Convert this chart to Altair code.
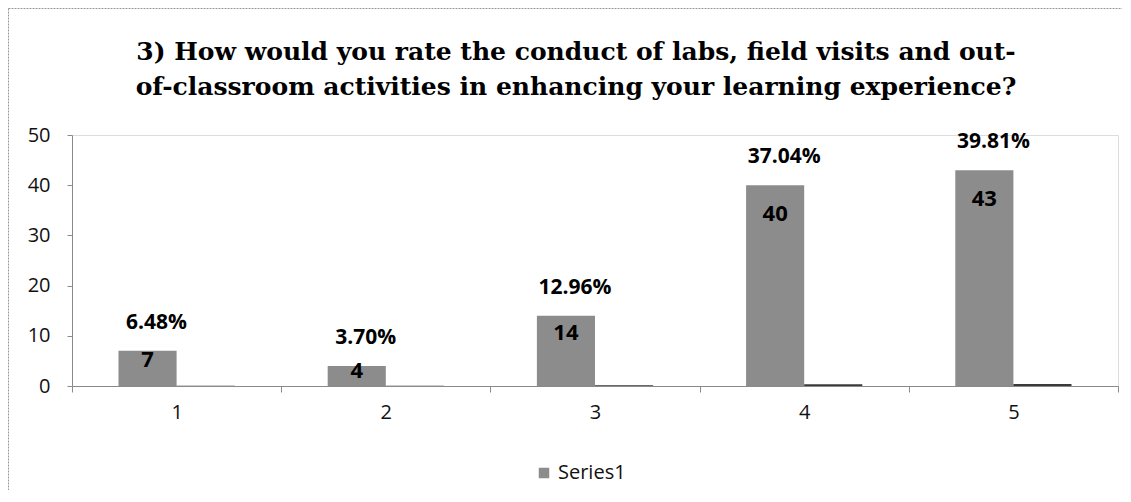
import altair as alt
import pandas as pd

ratings = ["1", "2", "3", "4", "5"]
counts = [7, 4, 14, 40, 43]
percent_labels = ["6.48%", "3.70%", "12.96%", "37.04%", "39.81%"]
series2_values = [0.0648, 0.0370, 0.1296, 0.3704, 0.3981]
series_names = ["Series1", "Series2"]
y_ticks = [0, 10, 20, 30, 40, 50]
title_line1 = "3) How would you rate the conduct of labs, field visits and out-"
title_line2 = "of-classroom activities in enhancing your learning experience?"

rows = []
for r, c, p, s2 in zip(ratings, counts, percent_labels, series2_values):
    rows.append({"rating": r, "series": "Series1", "value": c, "pct": p})
    rows.append({"rating": r, "series": "Series2", "value": s2, "pct": p})
df = pd.DataFrame(rows)

W, H = 1046, 251
sans = "Open Sans"

x_enc = alt.X(
    "rating:N",
    sort=ratings,
    scale=alt.Scale(paddingInner=0, paddingOuter=0),
    axis=alt.Axis(
        title=None, labelAngle=0, tickBand="extent", domainColor="#8a8a8a",
        tickColor="#8a8a8a", tickSize=6, labelPadding=10, labelFont=sans,
        labelFontSize=20, labelColor="#111", grid=False,
    ),
)
xoff = alt.XOffset(
    "series:N", sort=series_names,
    scale=alt.Scale(domain=series_names, paddingInner=0, paddingOuter=0.8),
)
y_enc = alt.Y(
    "value:Q",
    scale=alt.Scale(domain=[0, 50], nice=False),
    axis=alt.Axis(
        title=None, values=y_ticks, grid=False, domainColor="#8a8a8a",
        tickColor="#8a8a8a", tickSize=5, labelPadding=17, labelFont=sans,
        labelFontSize=20, labelColor="#111",
    ),
)

base = alt.Chart(df)

bars = base.mark_bar().encode(
    x=x_enc,
    xOffset=xoff,
    y=y_enc,
    color=alt.Color(
        "series:N",
        scale=alt.Scale(domain=series_names, range=["#8c8c8c", "#3a3a3a"]),
        legend=alt.Legend(
            values=["Series1"], title=None, orient="none", legendX=462, legendY=328,
            symbolType="square", symbolSize=110, symbolStrokeWidth=0,
            labelFont=sans, labelFontSize=20, labelColor="#111",
        ),
    ),
)

count_text = base.transform_filter(alt.datum.series == "Series1").transform_calculate(
    pos="max(datum.value - 5.8, datum.value * 0.75)"
).mark_text(font=sans, fontSize=22, fontWeight="bold", color="#000", baseline="middle").encode(
    x=x_enc, xOffset=xoff, y=alt.Y("pos:Q"), text=alt.Text("value:Q", format="d")
)

pct_text = base.transform_filter(alt.datum.series == "Series1").mark_text(
    font=sans, fontSize=21, fontWeight="bold", color="#000", baseline="middle", dx=9, dy=-28
).encode(x=x_enc, xOffset=xoff, y=alt.Y("value:Q"), text="pct:N")

frame = alt.Chart(alt.Data(values=[{"a": 1}])).mark_rect(
    filled=False, stroke="#9a9a9a", strokeWidth=1, strokeDash=[2, 1]
).encode(
    x=alt.value(-63.5), x2=alt.value(W + 200), y=alt.value(-126.5), y2=alt.value(H + 300)
)

title_font = dict(font="DejaVu Serif", fontSize=25, fontWeight="bold", color="#000",
                  align="center", baseline="alphabetic")
t1 = alt.Chart(alt.Data(values=[{"t": title_line1}])).mark_text(**title_font).encode(
    x=alt.value(504), y=alt.value(-75), text="t:N"
)
t2 = alt.Chart(alt.Data(values=[{"t": title_line2}])).mark_text(**title_font).encode(
    x=alt.value(504), y=alt.value(-40), text="t:N"
)

chart = alt.layer(frame, bars, count_text, pct_text, t1, t2).properties(
    width=W,
    height=H,
    autosize=alt.AutoSizeParams(type="none"),
    padding={"left": 64, "top": 127, "right": 4, "bottom": 104},
).configure_view(strokeWidth=0, stroke="transparent").configure(background="white")

chart.save("out.html", embed_options={"renderer": "svg", "actions": False})
